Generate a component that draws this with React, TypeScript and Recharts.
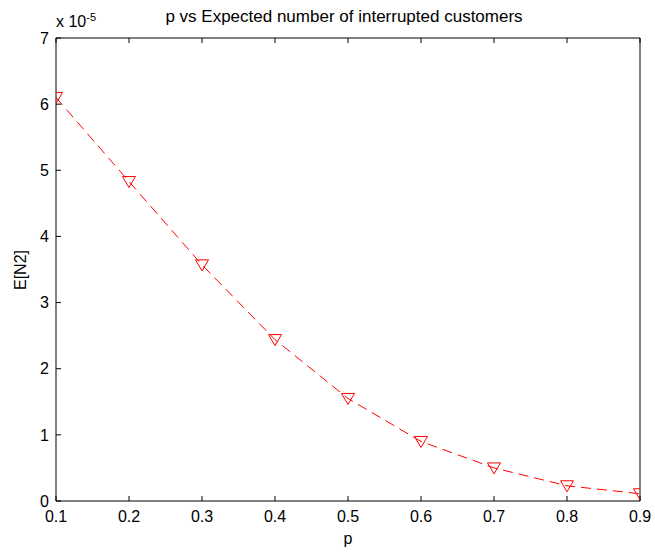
import React from "react";
import { LineChart, Line, XAxis, YAxis } from "recharts";

// p values and expected number of interrupted customers (in units of 1e-5)
const pValues = [0.1, 0.2, 0.3, 0.4, 0.5, 0.6, 0.7, 0.8, 0.9];
const expectedN2 = [6.1, 4.83, 3.57, 2.44, 1.55, 0.9, 0.5, 0.23, 0.11];

const xTicks = [0.1, 0.2, 0.3, 0.4, 0.5, 0.6, 0.7, 0.8, 0.9];
const yTicks = [0, 1, 2, 3, 4, 5, 6, 7];

const data = pValues.map((p, i) => ({ p, n2: expectedN2[i] }));

const FONT = "'Liberation Sans', Arial, sans-serif";
const tickStyle = { fontSize: 16, fill: "#000", fontFamily: FONT };

// Downward triangle marker, open, like MATLAB 'v'
function TriangleDown(props: any) {
  const { cx, cy, key } = props;
  if (cx == null || cy == null) return <g key={key} />;
  const d = `M${cx - 6.5},${cy - 5} L${cx + 6.5},${cy - 5} L${cx},${cy + 6} Z`;
  return <path key={key} d={d} fill="none" stroke="#ff0000" strokeWidth={1} />;
}

const noLabel = () => <g />;

export default function App() {
  return (
    <div style={{ position: "absolute", left: 0, top: 0, width: 655, height: 552, background: "#fff" }}>
      <LineChart
        width={655}
        height={552}
        data={data}
        margin={{ top: 37, right: 14, bottom: 21, left: 0 }}
      >
        <XAxis
          dataKey="p"
          type="number"
          domain={[0.1, 0.9]}
          ticks={xTicks}
          tickFormatter={(v: number) => v.toFixed(1)}
          tick={tickStyle}
          tickSize={-5}
          tickMargin={15}
          axisLine={{ stroke: "#000" }}
          tickLine={{ stroke: "#000" }}
          height={30}
          allowDataOverflow
        />
        <XAxis
          xAxisId="top"
          orientation="top"
          dataKey="p"
          type="number"
          domain={[0.1, 0.9]}
          ticks={xTicks}
          tick={noLabel}
          tickSize={-5}
          axisLine={{ stroke: "#000" }}
          tickLine={{ stroke: "#000" }}
          height={1}
        />
        <YAxis
          type="number"
          domain={[0, 7]}
          ticks={yTicks}
          tick={tickStyle}
          tickSize={-5}
          tickMargin={12}
          axisLine={{ stroke: "#000" }}
          tickLine={{ stroke: "#000" }}
          width={56}
          allowDataOverflow
        />
        <YAxis
          yAxisId="right"
          orientation="right"
          type="number"
          domain={[0, 7]}
          ticks={yTicks}
          tick={noLabel}
          tickSize={-5}
          axisLine={{ stroke: "#000" }}
          tickLine={{ stroke: "#000" }}
          width={1}
        />
        <Line
          type="linear"
          dataKey="n2"
          stroke="#ff0000"
          strokeWidth={1}
          strokeDasharray="10 6"
          dot={TriangleDown}
          activeDot={false}
          isAnimationActive={false}
        />
      </LineChart>

      {/* title and axis labels */}
      <div
        style={{
          position: "absolute",
          left: 48,
          width: 592,
          top: 7,
          textAlign: "center",
          fontFamily: FONT,
          fontSize: 17,
          color: "#000",
          whiteSpace: "nowrap",
        }}
      >
        p vs Expected number of interrupted customers
      </div>
      <div
        style={{
          position: "absolute",
          left: 56,
          top: 11,
          fontFamily: FONT,
          fontSize: 16,
          color: "#000",
          whiteSpace: "nowrap",
        }}
      >
        x 10<sup style={{ fontSize: 11, verticalAlign: "6px" }}>-5</sup>
      </div>
      <div
        style={{
          position: "absolute",
          left: 56,
          width: 584,
          top: 530,
          textAlign: "center",
          fontFamily: FONT,
          fontSize: 16,
          color: "#000",
        }}
      >
        p
      </div>
      <div
        style={{
          position: "absolute",
          left: 21,
          top: 270,
          transform: "translate(-50%, -50%) rotate(-90deg)",
          fontFamily: FONT,
          fontSize: 16,
          color: "#000",
          whiteSpace: "nowrap",
        }}
      >
        E[N2]
      </div>
    </div>
  );
}
